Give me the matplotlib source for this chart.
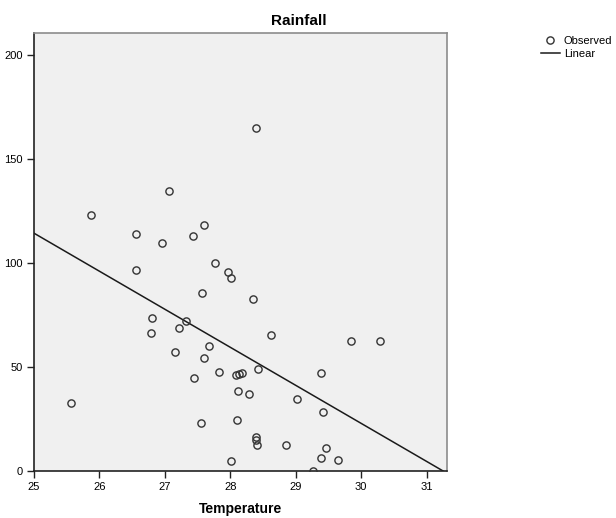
import numpy as np
import matplotlib.pyplot as plt

plt.rcParams['font.family'] = ['Liberation Sans', 'DejaVu Sans']

temperature = [26.56, 27.77, 27.97, 28.01, 27.56, 28.34, 26.80, 27.32, 27.22, 26.79,
               28.62, 29.85, 30.29, 27.68, 27.15, 27.59, 28.42, 29.38, 27.83, 28.09,
               28.13, 28.18, 27.45, 28.11, 28.28, 29.02, 25.56, 29.42, 28.10, 27.55,
               28.39, 28.39, 28.41, 28.85, 29.46, 29.38, 29.64, 28.01, 29.26, 28.39,
               27.06, 25.87, 26.56, 27.60, 27.43, 26.95]
rainfall = [96.5, 100.3, 95.6, 92.8, 85.5, 82.7, 73.8, 72.1, 68.7, 66.4,
            65.5, 62.4, 62.7, 60.3, 57.1, 54.2, 49.1, 47.3, 47.8, 46.1,
            46.5, 47.2, 44.8, 38.5, 37.2, 34.5, 32.9, 28.2, 24.7, 22.9,
            16.2, 15.1, 12.7, 12.4, 11.2, 6.1, 5.5, 5.0, 0.0, 164.8,
            134.6, 123.1, 114.0, 118.3, 113.0, 109.5]

# linear fit as drawn (intercept at x=25, slope)
fit_x0 = 25.0
fit_intercept = 114.4
fit_slope = -18.3

xticks = [25, 26, 27, 28, 29, 30, 31]
yticks = [0, 50, 100, 150, 200]


def main():
    fig = plt.figure(figsize=(6.16, 5.18), dpi=100)
    ax = fig.add_axes([0.0552, 0.0907, 0.6704, 0.8456])
    ax.set_facecolor('#f0f0f0')

    line_x = np.array([fit_x0, fit_x0 - fit_intercept / fit_slope])
    line_y = fit_intercept + fit_slope * (line_x - fit_x0)
    ax.plot(temperature, rainfall, 'o', ms=5.2, mfc='none', mec='#333333',
            mew=1.0, label='Observed', zorder=3)
    ax.plot(line_x, line_y, color='#1a1a1a', lw=1.1, label='Linear', zorder=2)

    ax.set_xlim(25, 31.31)
    ax.set_ylim(0, 210.7)
    ax.set_xticks(xticks)
    ax.set_yticks(yticks)
    ax.tick_params(direction='out', length=5, width=1, labelsize=8,
                   color='#222222', pad=3)

    for side in ['top', 'right']:
        ax.spines[side].set_color('#8c8c8c')
        ax.spines[side].set_linewidth(1.2)
    for side in ['left', 'bottom']:
        ax.spines[side].set_color('#222222')
        ax.spines[side].set_linewidth(1.2)

    ax.set_xlabel('Temperature', fontsize=10, fontweight='bold', labelpad=7)
    fig.text(299 / 616, 1 - 21 / 518, 'Rainfall', fontsize=11, fontweight='bold',
             ha='center', va='center')

    fig.legend(loc='upper left', bbox_to_anchor=(541 / 616, 1 - 36 / 518),
               frameon=False, fontsize=8, handlelength=1.7, handletextpad=0.35,
               borderpad=0, borderaxespad=0, labelspacing=0.3)

    fig.savefig('out.png', dpi=100)


if __name__ == "__main__":
    main()
